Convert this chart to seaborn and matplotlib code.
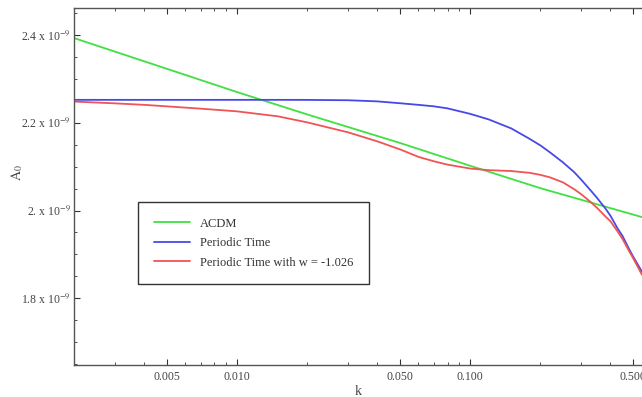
import pandas as pd
import matplotlib.pyplot as plt
import matplotlib.ticker as mticker
import seaborn as sns
import numpy as np

# Data (A_0 in units of 1e-9)
k_green = [0.002, 0.005, 0.01, 0.02, 0.05, 0.1, 0.2, 0.546]
a_lcdm = [2.393, 2.323, 2.270, 2.219, 2.154, 2.102, 2.051, 1.985]

k_vals = [0.002, 0.003, 0.004, 0.005, 0.007, 0.01, 0.015, 0.02, 0.03, 0.04,
          0.05, 0.06, 0.07, 0.08, 0.1, 0.12, 0.15, 0.18, 0.2, 0.22,
          0.25, 0.28, 0.3, 0.33, 0.35, 0.38, 0.4, 0.43, 0.45, 0.48,
          0.5, 0.546]
a_periodic = [2.2522, 2.2522, 2.2522, 2.2522, 2.2522, 2.2522, 2.2522, 2.2521, 2.2513, 2.2487,
              2.2445, 2.2408, 2.2374, 2.2328, 2.2203, 2.2077, 2.1872, 2.1633, 2.1485, 2.1326,
              2.1098, 2.0870, 2.0699, 2.0449, 2.0289, 2.0050, 1.9879, 1.9583, 1.9424, 1.9128,
              1.8952, 1.8604]
a_periodic_w = [2.2483, 2.2442, 2.2408, 2.2374, 2.2321, 2.2260, 2.2146, 2.2009, 2.1781, 2.1576,
                2.1394, 2.1223, 2.1121, 2.1046, 2.0957, 2.0920, 2.0900, 2.0859, 2.0813, 2.0756,
                2.0642, 2.0483, 2.0369, 2.0187, 2.0062, 1.9868, 1.9754, 1.9515, 1.9355, 1.9082,
                1.8916, 1.8535]

labels = ["ACDM", "Periodic Time", "Periodic Time with w = -1.026"]
colors = ["#40e040", "#4848e8", "#f05454"]

df = pd.concat([
    pd.DataFrame({"k": k_green, "A": a_lcdm, "model": labels[0]}),
    pd.DataFrame({"k": k_vals, "A": a_periodic, "model": labels[1]}),
    pd.DataFrame({"k": k_vals, "A": a_periodic_w, "model": labels[2]}),
], ignore_index=True)

sns.set_style("ticks")
plt.rcParams["font.family"] = ["Liberation Serif", "DejaVu Serif"]
plt.rcParams["mathtext.fontset"] = "stix"

fig = plt.figure(figsize=(6.42, 3.97), dpi=100)
ax = fig.add_axes([74 / 642, 32 / 397, 568 / 642, 357 / 397])

sns.lineplot(data=df, x="k", y="A", hue="model", palette=colors,
             hue_order=labels, linewidth=1.3, ax=ax, sort=False)

ax.set_xscale("log")
ax.set_xlim(0.002, 0.546)
ax.set_ylim(1.648, 2.4615)

ax.xaxis.set_major_locator(mticker.FixedLocator([0.005, 0.01, 0.05, 0.1, 0.5]))
ax.xaxis.set_major_formatter(mticker.FixedFormatter(["0.005", "0.010", "0.050", "0.100", "0.500"]))
ax.xaxis.set_minor_locator(mticker.LogLocator(base=10, subs=np.arange(2, 10)))
ax.xaxis.set_minor_formatter(mticker.NullFormatter())

ax.yaxis.set_major_locator(mticker.FixedLocator([1.8, 2.0, 2.2, 2.4]))
ax.yaxis.set_major_formatter(mticker.FixedFormatter([
    "1.8 x 10$^{-9}$", "2. x 10$^{-9}$", "2.2 x 10$^{-9}$", "2.4 x 10$^{-9}$"]))
ax.yaxis.set_minor_locator(mticker.MultipleLocator(0.05))

ax.tick_params(which="both", direction="in", top=True, right=False,
               labelsize=8.5, colors="#333333", labelcolor="#444444")
ax.tick_params(which="major", length=4, width=0.8)
ax.tick_params(which="minor", length=2.5, width=0.6)
ax.tick_params(axis="y", pad=2)
ax.tick_params(axis="x", pad=4)

for side in ["left", "bottom", "top"]:
    ax.spines[side].set_color("#555555")
    ax.spines[side].set_linewidth(1.0)
ax.spines["right"].set_visible(False)

ax.set_xlabel("k", fontsize=10, color="#444444", labelpad=2)
ax.set_ylabel("$\\mathrm{A}_0$", fontsize=10, color="#444444")
ax.yaxis.set_label_coords(-49 / 568, 0.538)

leg = ax.legend(loc="upper left", bbox_to_anchor=(64 / 568, 1 - 194 / 357),
                frameon=True, fancybox=False, fontsize=9, handlelength=2.9,
                handletextpad=0.8, borderpad=1.25, labelspacing=0.6,
                borderaxespad=0)
leg.get_frame().set_edgecolor("black")
leg.get_frame().set_linewidth(1.0)
for t in leg.get_texts():
    t.set_color("#333333")

fig.savefig("out.png", dpi=100)
